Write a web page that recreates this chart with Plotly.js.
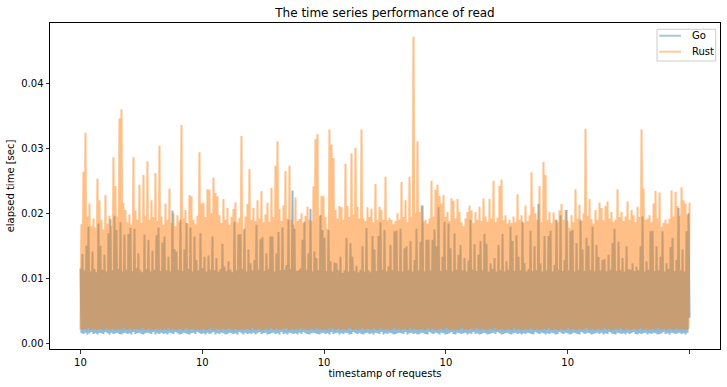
<!DOCTYPE html>
<html><head><meta charset="utf-8">
<script src="https://cdn.plot.ly/plotly-3.0.1.min.js"></script>
<style>html,body{margin:0;padding:0;background:#fff}#chart{width:727px;height:387px}</style>
</head><body><div id="chart"></div>
<script>
// Values, in milliseconds (converted to seconds for plotting)
const goPeaksMs = [
11.5,13.7,11.2,15.0,17.9,11.0,14.1,11.4,10.9,18.4,
15.0,11.3,13.6,11.0,16.9,19.1,11.2,19.6,17.4,11.4,
18.6,11.0,16.7,11.3,16.8,17.7,11.1,17.6,11.5,13.8,
11.2,10.9,16.7,11.4,15.9,11.0,14.2,11.3,16.6,17.8,
11.1,15.5,16.4,11.2,13.3,11.0,20.4,14.5,14.1,11.3,
19.0,11.1,14.4,18.5,11.4,17.8,11.0,16.4,12.8,11.2,
16.9,11.5,13.3,11.0,13.5,11.3,16.4,11.2,13.1,11.0,
11.4,15.3,11.8,11.1,12.6,11.3,10.9,18.7,11.2,16.7,
16.8,11.4,17.6,11.0,14.4,12.3,11.2,12.8,18.2,11.3,
16.0,16.3,11.1,13.8,11.4,16.4,16.4,11.0,13.8,17.1,
11.2,17.8,11.3,12.0,19.0,11.4,23.5,17.6,11.1,11.2,
11.5,15.9,18.7,11.3,13.8,20.7,11.0,14.1,13.1,11.2,
19.7,17.4,16.2,11.1,17.4,12.6,11.0,12.4,12.3,11.2,
13.3,10.8,11.2,16.2,11.0,15.4,13.3,11.1,11.9,10.9,
11.3,14.9,11.0,17.7,11.2,10.9,16.5,14.4,11.1,16.5,
18.6,11.3,17.4,11.0,11.8,15.1,11.2,17.2,17.3,11.1,
17.6,11.0,14.6,14.9,11.3,15.7,11.0,12.8,17.6,11.2,
15.6,21.2,11.0,15.9,15.9,11.2,15.9,17.5,14.9,20.9,
11.1,13.3,18.7,11.2,18.4,14.6,11.0,16.9,11.3,13.6,
15.1,11.2,13.1,11.0,12.7,19.0,11.3,15.2,11.1,13.6,
15.7,11.2,16.8,15.3,11.0,12.3,11.4,13.1,11.0,15.1,
11.2,16.8,11.0,12.6,11.3,17.9,15.7,11.1,16.6,13.3,
11.2,18.7,12.3,11.0,11.4,17.3,11.1,14.9,11.2,21.4,
12.3,11.0,16.5,11.2,16.5,17.3,11.0,12.0,19.0,11.3,
19.7,11.1,12.8,20.5,11.2,17.2,17.4,11.0,15.4,11.3,
19.0,14.4,11.1,16.2,15.0,11.2,17.9,11.0,15.1,13.3,
11.2,12.8,12.9,11.0,13.6,11.3,15.4,17.6,11.1,15.6,
11.2,13.1,11.0,14.9,11.4,11.3,12.3,11.1,11.8,11.2,
14.9,19.5,11.0,12.6,11.3,17.2,17.3,11.1,14.9,11.2,
13.3,17.2,11.0,12.3,11.4,14.8,16.2,11.1,12.8,20.8,
11.2,14.4,11.0,17.2,20.0];
const goLowsMs = [
1.5,1.4,1.6,1.3,1.5,1.7,1.4,1.5,1.3,1.6,1.5,1.4,1.7,1.5,1.3,1.6,1.4,1.5,1.6,1.4,
1.3,1.5,1.6,1.4,1.5,1.3,1.7,1.4,1.5,1.6,1.4,1.3,1.5,1.6,1.5,1.4,1.7,1.3,1.5,1.4,
1.6,1.4,1.5,1.3,1.6,1.5,1.4,1.7,1.5,1.3,1.4,1.6,1.5,1.4,1.3,1.5,1.6,1.4,1.7,1.5,
1.4,1.5,1.3,1.6,1.4,1.5,1.7,1.3,1.5,1.4,1.6,1.5,1.3,1.4,1.6,1.5,1.4,1.5,1.3,1.7,
1.5,1.3,1.6,1.4,1.5,1.4,1.6,1.3,1.5,1.7,1.4,1.5,1.6,1.3,1.4,1.5,1.6,1.4,1.5,1.3,
1.7,1.4,1.5,1.3,1.6,1.5,1.4,1.5,1.3,1.6,1.4,1.7,1.5,1.4,1.3,1.5,1.6,1.5,1.4,1.3,
1.5,1.6,1.4,1.5,1.3,1.7,1.4,1.5,1.6,1.3,1.5,1.4,1.6,1.5,1.3,1.4,1.7,1.5,1.4,1.6,
1.4,1.3,1.5,1.6,1.4,1.5,1.3,1.6,1.5,1.4,1.7,1.3,1.5,1.4,1.6,1.5,1.3,1.4,1.5,1.6,
1.5,1.4,1.7,1.3,1.5,1.6,1.4,1.5,1.3,1.4,1.6,1.5,1.4,1.3,1.7,1.5,1.4,1.6,1.5,1.3,
1.6,1.5,1.3,1.4,1.5,1.7,1.4,1.3,1.6,1.5,1.4,1.5,1.6,1.3,1.5,1.4,1.7,1.4,1.5,1.3,
1.4,1.6,1.5,1.3,1.4,1.5,1.6,1.4,1.7,1.5,1.3,1.4,1.5,1.6,1.4,1.3,1.5,1.6,1.4,1.5,
1.3,1.5,1.4,1.6,1.5,1.4,1.3,1.7,1.5,1.4,1.6,1.5,1.3,1.5,1.4,1.6,1.5,1.3,1.4,1.7,
1.5,1.4,1.6,1.5,1.3,1.4,1.6,1.5,1.4,1.3,1.7,1.5,1.4,1.6,1.5,1.3,1.4,1.5,1.6,1.4,
1.6,1.3,1.5,1.4,1.7,1.5,1.4,1.3,1.6,1.5,1.4,1.5,1.3,1.6,1.4,1.5,1.7,1.4,1.3,1.5,
1.4,1.5,1.6,1.3,1.5,1.4,1.6,1.5,1.3,1.4,1.5,1.7,1.4,1.5,1.3,1.6,1.5,1.4,1.5,1.6,
1.4,1.5,1.3,1.6,3.9];
const rustLowsMs = [
2.1,2.0,2.2,2.1,2.3,2.0,2.1,2.2,2.0,2.1,2.2,2.1,2.0,2.3,2.1,2.0,2.2,2.1,2.0,2.2,
2.0,2.1,2.3,2.0,2.1,2.2,2.0,2.1,2.2,2.0,2.1,2.3,2.1,2.0,2.2,2.1,2.0,2.1,2.2,2.0,
2.2,2.0,2.1,2.1,2.3,2.0,2.2,2.1,2.0,2.1,2.2,2.0,2.1,2.3,2.0,2.1,2.2,2.0,2.1,2.1,
2.0,2.2,2.1,2.0,2.1,2.3,2.0,2.1,2.2,2.1,2.0,2.2,2.1,2.0,2.3,2.1,2.0,2.2,2.1,2.0,
2.1,2.1,2.0,2.2,2.1,2.0,2.3,2.1,2.0,2.2,2.1,2.0,2.1,2.2,2.0,2.3,2.1,2.0,2.2,2.1,
2.0,2.2,2.1,2.3,2.0,2.1,2.2,2.0,2.1,2.1,2.3,2.0,2.2,2.1,2.0,2.1,2.2,2.0,2.3,2.1,
2.2,2.0,2.1,2.0,2.2,2.1,2.3,2.0,2.1,2.2,2.0,2.1,2.1,2.0,2.2,2.3,2.0,2.1,2.2,2.0,
2.1,2.3,2.0,2.1,2.2,2.0,2.1,2.2,2.1,2.0,2.3,2.1,2.0,2.2,2.1,2.0,2.1,2.3,2.0,2.2,
2.0,2.1,2.2,2.0,2.1,2.3,2.0,2.2,2.1,2.0,2.1,2.2,2.0,2.1,2.3,2.0,2.2,2.1,2.0,2.1,
2.2,2.1,2.0,2.3,2.1,2.0,2.2,2.1,2.0,2.1,2.2,2.3,2.0,2.1,2.0,2.2,2.1,2.0,2.3,2.1,
2.0,2.2,2.1,2.0,2.1,2.2,2.0,2.3,2.1,2.0,2.2,2.1,2.0,2.1,2.2,2.0,2.1,2.3,2.0,2.2,
2.1,2.0,2.2,2.1,2.0,2.3,2.1,2.0,2.2,2.1,2.0,2.1,2.2,2.0,2.3,2.1,2.0,2.2,2.1,2.0,
2.2,2.1,2.0,2.1,2.3,2.0,2.2,2.1,2.0,2.1,2.2,2.0,2.1,2.3,2.1,2.0,2.2,2.0,2.1,2.2,
2.0,2.1,2.3,2.0,2.2,2.1,2.0,2.1,2.2,2.0,2.3,2.1,2.0,2.2,2.1,2.0,2.1,2.2,2.0,2.1,
2.3,2.0,2.1,2.2,2.0,2.1,2.2,2.0,2.1,2.3,2.0,2.2,2.1,2.0,2.1,2.2,2.0,2.1,2.3,2.0,
2.1,2.2,2.0,2.1,2.2];
const rustPeaksMs = [
18.3,26.4,32.4,19.5,21.5,18.0,19.2,17.8,25.3,22.0,
19.0,17.5,22.8,18.4,19.6,18.0,28.6,24.2,19.5,34.6,
36.0,21.6,20.5,18.6,19.8,18.2,28.6,20.4,19.0,24.4,
18.5,25.9,19.6,28.0,19.0,22.0,19.4,26.2,18.8,30.4,
19.5,18.2,21.5,19.0,23.8,18.5,20.0,18.0,19.7,18.6,
33.6,19.2,20.5,18.4,22.8,22.6,19.0,18.3,19.6,29.4,
21.5,21.6,19.4,23.7,23.6,20.0,25.5,23.1,22.6,19.7,
18.5,22.2,19.0,20.8,18.2,19.4,20.7,21.7,18.6,19.3,
31.9,17.4,19.5,21.4,26.8,19.0,20.8,18.8,22.0,19.2,
23.4,18.6,19.8,21.6,18.7,23.9,19.4,27.3,31.1,20.6,
18.8,21.2,26.5,19.2,27.3,19.0,18.2,22.4,18.8,19.1,
20.0,18.5,19.6,21.0,19.0,18.8,24.1,31.4,32.2,19.6,
22.7,22.6,19.4,17.6,32.9,30.6,28.5,20.5,19.2,21.1,
20.9,19.0,27.6,21.1,19.4,29.2,19.8,30.1,21.0,19.2,
32.9,19.2,18.8,20.9,19.4,20.7,18.6,24.5,19.0,21.0,
20.5,19.0,25.6,18.9,19.3,19.0,18.3,18.8,20.0,19.0,
24.8,19.4,22.0,18.6,25.6,19.5,47.2,20.0,31.1,20.2,
21.2,18.7,19.0,18.4,19.2,25.0,19.5,23.6,24.4,22.7,
21.5,22.8,19.4,20.2,18.8,22.3,21.9,19.2,22.2,20.2,
18.6,18.0,19.2,20.2,21.2,20.4,18.5,20.2,19.0,21.0,
18.8,22.3,19.5,18.7,22.2,19.2,25.0,18.6,19.3,24.2,
25.2,18.9,19.7,18.4,19.0,18.5,19.5,18.6,22.9,19.0,
19.7,18.5,21.2,18.8,19.7,26.3,21.0,20.0,19.0,24.2,
18.6,27.9,25.9,19.0,20.2,18.5,20.1,19.0,18.6,20.4,
21.4,19.0,20.5,18.8,17.7,19.7,18.6,23.7,19.2,21.3,
18.8,20.0,33.0,19.6,22.2,19.1,18.4,20.5,19.0,21.6,
20.8,18.9,21.1,21.8,19.2,20.2,18.7,19.0,23.7,19.4,
20.2,18.8,19.5,21.8,19.0,20.5,19.7,18.6,21.0,19.4,
32.9,23.8,19.0,19.2,19.7,18.6,21.5,23.4,19.2,23.2,
17.9,18.5,19.0,18.4,19.2,23.5,19.5,23.3,21.1,19.6,
24.0,22.0,21.5,19.8,21.6];
const seriesNames = ['Go', 'Rust'];
const seriesColors = ['#1f77b4', '#ff7f0e'];
const xTickLabels = ['10', '10', '10', '10', '10', ''];
const yTickValues = [0, 0.01, 0.02, 0.03, 0.04];

function interleave(a, b) {
  const out = [];
  const m = Math.min(a.length, b.length);
  for (let i = 0; i < m; i++) { out.push(a[i]); out.push(b[i]); }
  return out;
}
const goSec = interleave(goPeaksMs, goLowsMs).map(v => v / 1000);
const rustSec = interleave(rustLowsMs, rustPeaksMs).map(v => v / 1000);
const n = Math.max(goSec.length, rustSec.length);
const xIdx = Array.from({length: n}, (_, i) => i);
const tickVals = xTickLabels.map((_, k) => k * (n - 1) / (xTickLabels.length - 1));

const traces = [
  {type: 'scatter', mode: 'lines', name: seriesNames[0], x: xIdx, y: goSec,
   line: {color: seriesColors[0], width: 2}, opacity: 0.5, hoverinfo: 'skip', showlegend: false},
  {type: 'scatter', mode: 'lines', name: seriesNames[1], x: xIdx, y: rustSec,
   line: {color: seriesColors[1], width: 2}, opacity: 0.5, hoverinfo: 'skip', showlegend: false}
];

const FONT = 'DejaVu Sans';
const axisCommon = {
  showline: true, mirror: true, linecolor: '#000', linewidth: 1,
  ticks: 'outside', ticklen: 3.5, tickwidth: 0.8, tickcolor: '#000',
  showgrid: false, zeroline: false, automargin: false,
  tickfont: {family: FONT, size: 10, color: '#000'}
};

// matplotlib-style legend box (upper right), drawn in paper coordinates
const legBox = {x0: 0.906, x1: 0.9936, y0: 0.8834, y1: 0.9807};
const legRows = [0.961, 0.912];
const legLineX = [0.9094, 0.9418];
const legTextX = 0.9552;
const shapes = [
  {type: 'rect', xref: 'paper', yref: 'paper', x0: legBox.x0, x1: legBox.x1, y0: legBox.y0, y1: legBox.y1,
   line: {color: '#cccccc', width: 1}, fillcolor: 'rgba(255,255,255,0.8)', layer: 'above'}
];
const annotations = [];
seriesNames.forEach((name, i) => {
  shapes.push({type: 'line', xref: 'paper', yref: 'paper', x0: legLineX[0], x1: legLineX[1],
               y0: legRows[i], y1: legRows[i], line: {color: seriesColors[i], width: 2}, opacity: 0.4, layer: 'above'});
  annotations.push({xref: 'paper', yref: 'paper', x: legTextX, y: legRows[i], xanchor: 'left', yanchor: 'middle',
                    text: name, showarrow: false, font: {family: FONT, size: 10, color: '#000'}});
});

const layout = {
  width: 727, height: 387,
  margin: {l: 50, r: 7, t: 23, b: 38, pad: 0},
  paper_bgcolor: '#fff', plot_bgcolor: '#fff',
  font: {family: FONT, size: 10, color: '#000'},
  title: {text: 'The time series performance of read', font: {family: FONT, size: 12, color: '#000'},
          x: 0.5, xref: 'paper', xanchor: 'center', y: 0.966, yref: 'container', yanchor: 'middle'},
  showlegend: false,
  shapes: shapes,
  annotations: annotations,
  xaxis: Object.assign({}, axisCommon, {
    range: [-0.05 * (n - 1), 1.05 * (n - 1)],
    tickmode: 'array', tickvals: tickVals, ticktext: xTickLabels,
    title: {text: 'timestamp of requests', standoff: 2, font: {family: FONT, size: 10, color: '#000'}}
  }),
  yaxis: Object.assign({}, axisCommon, {
    range: [-0.00092, 0.0493],
    tickmode: 'array', tickvals: yTickValues, tickformat: '.2f',
    title: {text: 'elapsed time [sec]', standoff: 4, font: {family: FONT, size: 10, color: '#000'}}
  })
};

Plotly.newPlot('chart', traces, layout, {staticPlot: true, displayModeBar: false});
</script>
</body></html>
